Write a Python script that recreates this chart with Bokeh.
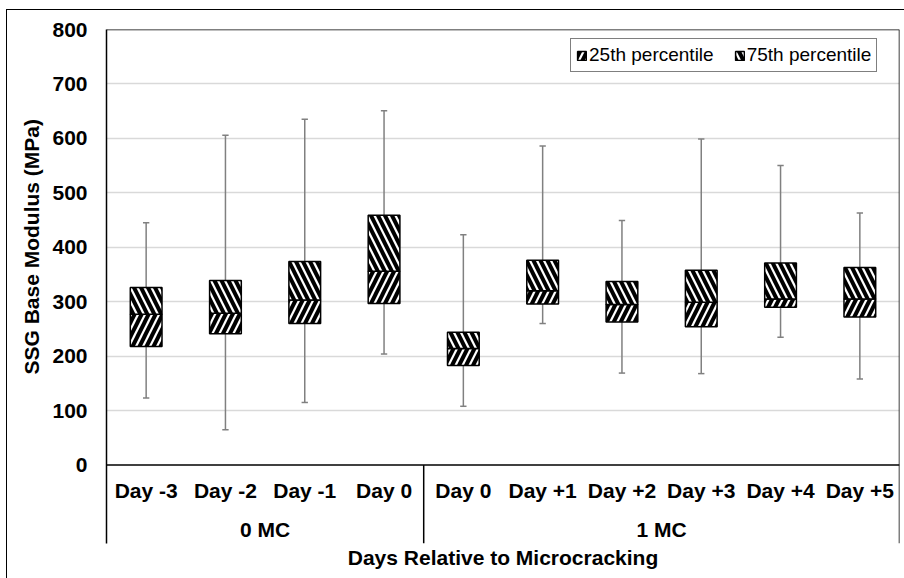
from bokeh.plotting import figure
from bokeh.models import (Range1d, FixedTicker, Span, Title, Legend, LegendItem,
                          ColumnDataSource)
from bokeh.core.properties import value
from bokeh.embed import file_html
from bokeh.resources import INLINE

# ---------------- data ----------------
days = ["Day -3", "Day -2", "Day -1", "Day 0", "Day 0",
        "Day +1", "Day +2", "Day +3", "Day +4", "Day +5"]
groups = ["0 MC", "0 MC", "0 MC", "0 MC",
          "1 MC", "1 MC", "1 MC", "1 MC", "1 MC", "1 MC"]
group_names = ["0 MC", "1 MC"]
p_min = [123, 65, 115, 204, 108, 260, 169, 168, 235, 158]
p25 = [218, 241, 260, 297, 183, 296, 263, 254, 290, 272]
p50 = [277, 279, 303, 356, 214, 320, 295, 299, 305, 305]
p75 = [326, 339, 374, 459, 244, 376, 337, 358, 371, 363]
p_max = [445, 606, 635, 651, 423, 586, 449, 599, 550, 463]
y_ticks = [0, 100, 200, 300, 400, 500, 600, 700, 800]

y_title = "SSG Base Modulus (MPa)"
x_title = "Days Relative to Microcracking"
legend_labels = ["25th percentile", "75th percentile"]

# ---------------- layout constants ----------------
FONT = "Liberation Sans"
FS = "21px"
FS_LEG = "19px"
W, H = 904, 578
n = len(days)
xc = [i + 0.5 for i in range(n)]
BOX_W = 0.4
CAP = 0.04
Y_BOTTOM = -144        # frame extended below zero for the category labels
DAY_LABEL_Y = -46.5
GROUP_LABEL_Y = -118.5

src = ColumnDataSource(dict(
    x=xc, lo=p_min, q1=p25, med=p50, q3=p75, hi=p_max,
    cl=[x - CAP for x in xc], cr=[x + CAP for x in xc], day=days,
))

p = figure(width=W, height=H,
           x_range=Range1d(0, n), y_range=Range1d(Y_BOTTOM, y_ticks[-1]),
           output_backend="svg", toolbar_location=None,
           min_border_left=106, min_border_right=5,
           min_border_top=29, min_border_bottom=35,
           outline_line_color=None,
           background_fill_color="white", border_fill_color=None)
# outer chart border (left and top edges; right/bottom lie outside the view)
p.styles = {
    "background": ("linear-gradient(#000,#000) 6px 9px / 1px 580px no-repeat, "
                   "linear-gradient(#000,#000) 6px 9px / 910px 1px no-repeat, #ffffff"),
}

# grid
p.xgrid.visible = False
p.ygrid.ticker = FixedTicker(ticks=y_ticks[1:])
p.ygrid.grid_line_color = "#d9d9d9"
p.ygrid.grid_line_width = 1.5

# y axis
p.yaxis.ticker = FixedTicker(ticks=y_ticks)
p.yaxis.major_tick_line_color = None
p.yaxis.minor_tick_line_color = None
p.yaxis.major_tick_out = 0
p.yaxis.major_tick_in = 0
p.yaxis.axis_line_color = "black"
p.yaxis.axis_line_width = 1.5
p.yaxis.major_label_standoff = 19
p.yaxis.major_label_text_font = FONT
p.yaxis.major_label_text_font_style = "bold"
p.yaxis.major_label_text_font_size = FS
p.yaxis.major_label_text_color = "black"

# y title (left panel, centred on the 0..800 part of the axis)
p.add_layout(Title(text=y_title, align="left", offset=169, standoff=13,
                   text_font=FONT, text_font_style="bold", text_font_size=FS,
                   text_color="black"), "left")

# x axis: only its title
p.xaxis.ticker = FixedTicker(ticks=[])
p.xaxis.axis_line_color = None
p.xaxis.major_tick_line_color = None
p.xaxis.minor_tick_line_color = None
p.xaxis.major_tick_out = 0
p.xaxis.major_label_standoff = 0
p.xaxis.axis_label = x_title
p.xaxis.axis_label_standoff = 2
p.xaxis.axis_label_text_font = FONT
p.xaxis.axis_label_text_font_style = "bold"
p.xaxis.axis_label_text_font_size = FS
p.xaxis.axis_label_text_color = "black"

# frame lines
p.add_layout(Span(location=y_ticks[-1], dimension="width", line_color="black", line_width=1.5))
p.add_layout(Span(location=n, dimension="height", line_color="black", line_width=1.5))
p.add_layout(Span(location=0, dimension="width", line_color="black", line_width=1.5))

# group separators below the axis
n0 = groups.count(group_names[0])
p.segment(x0=[n0], y0=[0], x1=[n0], y1=[Y_BOTTOM], line_color="black", line_width=1.5)

# whiskers and caps
p.segment(x0="x", y0="lo", x1="x", y1="hi", source=src, line_color="#808080", line_width=1.5)
p.segment(x0="cl", y0="lo", x1="cr", y1="lo", source=src, line_color="#808080", line_width=1.5)
p.segment(x0="cl", y0="hi", x1="cr", y1="hi", source=src, line_color="#808080", line_width=1.5)

# boxes
r_low = p.vbar(x="x", width=BOX_W, bottom="q1", top="med", source=src,
               fill_color="white", line_color="black", line_width=1.5,
               hatch_pattern="/", hatch_color="black", hatch_weight=4, hatch_scale=14)
r_up = p.vbar(x="x", width=BOX_W, bottom="med", top="q3", source=src,
              fill_color="white", line_color="black", line_width=1.5,
              hatch_pattern="\\", hatch_color="black", hatch_weight=4, hatch_scale=14)

# category labels
p.text(x="x", y=DAY_LABEL_Y, text="day", source=src,
       text_font=value(FONT), text_font_style="bold", text_font_size=FS,
       text_color="black", text_align="center", text_baseline="middle")
gx = [n0 / 2, n0 + (n - n0) / 2]
p.text(x=gx, y=[GROUP_LABEL_Y] * 2, text=group_names,
       text_font=value(FONT), text_font_style="bold", text_font_size=FS,
       text_color="black", text_align="center", text_baseline="middle")

# legend
legend = Legend(items=[LegendItem(label=legend_labels[0], renderers=[r_low]),
                       LegendItem(label=legend_labels[1], renderers=[r_up])],
                orientation="horizontal", location=(464, 471),
                glyph_width=11, glyph_height=11, label_standoff=2, spacing=20,
                padding=5, label_height=20,
                label_text_font=FONT, label_text_font_size=FS_LEG, label_text_color="black",
                border_line_color="black", border_line_width=1,
                background_fill_color="white", background_fill_alpha=1.0, margin=0)
p.add_layout(legend)

open("out.html", "w").write(file_html(p, INLINE))
